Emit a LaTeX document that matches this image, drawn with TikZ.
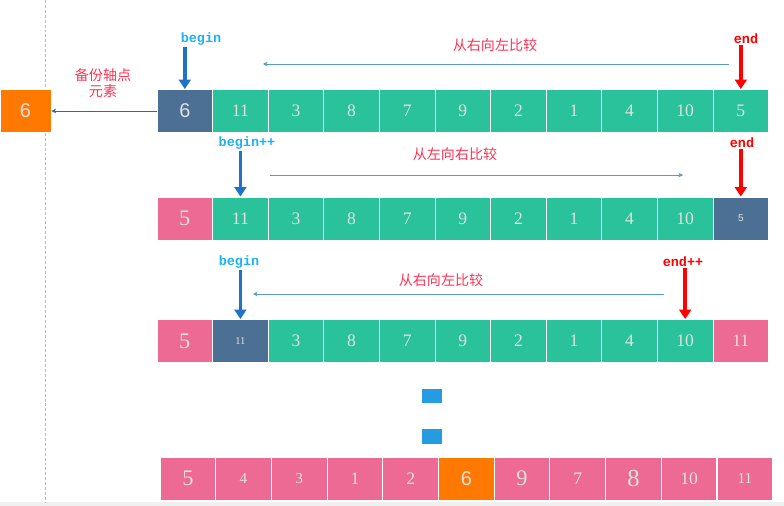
\documentclass[tikz,border=0pt]{standalone}
\usepackage{fontspec}
\setmainfont{Liberation Serif}
\newfontfamily\cjk{Noto Sans CJK SC}
\newfontfamily\ptrmono{Liberation Mono}
\newfontfamily\digsans{Liberation Sans}
\usetikzlibrary{arrows.meta}
\definecolor{cellgreen}{HTML}{2AC29B}
\definecolor{cellblue}{HTML}{4B7094}
\definecolor{cellpink}{HTML}{EC6A94}
\definecolor{cellorange}{HTML}{FF7800}
\definecolor{ptrcyan}{HTML}{1EB2F2}
\definecolor{ptrblue}{HTML}{1E72C8}
\definecolor{ptrred}{HTML}{FF0000}
\definecolor{hintred}{HTML}{FF3355}
\definecolor{lineblue}{HTML}{5B9AC6}
\definecolor{pivotline}{HTML}{2D6E9E}
\definecolor{dotblue}{HTML}{279BE0}
\tikzset{
  cell/.style={draw=white,line width=0.8pt,minimum width=1.668cm,minimum height=1.29cm,
    inner sep=0pt,text=white!88!black},
  numreg/.style={font=\fontsize{15}{15}\selectfont},
  nummid/.style={font=\fontsize{13}{13}\selectfont},
  numbig/.style={font=\fontsize{19}{19}\selectfont},
  numhuge/.style={font=\fontsize{21}{21}\selectfont},
  numsmall/.style={font=\fontsize{9}{9}\selectfont},
  numbigsans/.style={font=\digsans\fontsize{17}{17}\selectfont},
  numsmallsans/.style={font=\digsans\fontsize{8.5}{8.5}\selectfont},
  ptrlabel/.style={font=\ptrmono\bfseries\fontsize{11.5}{11.5}\selectfont,inner sep=1pt},
  ptrarrow/.style={line width=3.2pt,-{Triangle[width=10pt,length=8pt]}},
  hint/.style={font=\cjk\fontsize{12}{14}\selectfont,text=hintred,inner sep=1pt},
  hintarrow/.style={draw=lineblue,line width=0.8pt,-{Stealth[length=4pt,width=4pt]}}
}
\begin{document}
\begin{tikzpicture}[x=0.03cm,y=-0.03cm]
\useasboundingbox (0,0) rectangle (784,506);
\fill[white] (0,0) rectangle (784,506);
\fill[gray!12] (0,502) rectangle (784,506);
\draw[gray!55,line width=0.6pt,dash pattern=on 2.5pt off 1.7pt] (45,0) -- (45,502);

% row 1: pivot taken out
\foreach \v/\c/\f [count=\i] in {6/cellblue/numbigsans,11/cellgreen/numreg,3/cellgreen/numreg,
  8/cellgreen/numreg,7/cellgreen/numreg,9/cellgreen/numreg,2/cellgreen/numreg,1/cellgreen/numreg,
  4/cellgreen/numreg,10/cellgreen/numreg,5/cellgreen/numreg}
  \node[cell,fill=\c,\f] (r1c\i) at ({129.2+55.6*\i},111) {\v};
\node[cell,fill=cellorange,numbigsans,minimum width=1.53cm] (pivot) at (25.5,111) {6};
\draw[pivotline,line width=0.8pt,-{Stealth[length=4pt,width=4pt]}] (r1c1.west) -- (pivot.east);
\node[hint,align=center] (pivlbl) at (103,83) {备份轴点\\元素};
\node[ptrlabel,text=ptrcyan] (b1) at (201,39) {begin};
\node[ptrlabel,text=ptrred] (e1) at (746,39) {end};
\draw[ptrarrow,ptrblue] (r1c1.north |- b1.south) -- (r1c1.north);
\draw[ptrarrow,ptrred] (r1c11.north |- e1.south) -- (r1c11.north);
\node[hint] (h1) at (495,45) {从右向左比较};
\coordinate (h1s) at (729,64);
\coordinate (h1e) at (263,64);
\draw[hintarrow] (h1s) -- (h1e);

% row 2: end moved to begin
\foreach \v/\c/\f [count=\i] in {5/cellpink/numbig,11/cellgreen/numreg,3/cellgreen/numreg,
  8/cellgreen/numreg,7/cellgreen/numreg,9/cellgreen/numreg,2/cellgreen/numreg,1/cellgreen/numreg,
  4/cellgreen/numreg,10/cellgreen/numreg,5/cellblue/numsmallsans}
  \node[cell,fill=\c,\f] (r2c\i) at ({129.2+55.6*\i},218.5) {\v};
\node[ptrlabel,text=ptrcyan] (b2) at (247,143) {begin++};
\node[ptrlabel,text=ptrred] (e2) at (742,143) {end};
\draw[ptrarrow,ptrblue] (r2c2.north |- b2.south) -- (r2c2.north);
\draw[ptrarrow,ptrred] (r2c11.north |- e2.south) -- (r2c11.north);
\node[hint] (h2) at (455,154) {从左向右比较};
\coordinate (h2s) at (270,175);
\coordinate (h2e) at (683,175);
\draw[hintarrow] (h2s) -- (h2e);

% row 3: begin moved to end
\foreach \v/\c/\f [count=\i] in {5/cellpink/numbig,11/cellblue/numsmall,3/cellgreen/numreg,
  8/cellgreen/numreg,7/cellgreen/numreg,9/cellgreen/numreg,2/cellgreen/numreg,1/cellgreen/numreg,
  4/cellgreen/numreg,10/cellgreen/numreg,11/cellpink/numreg}
  \node[cell,fill=\c,\f] (r3c\i) at ({129.2+55.6*\i},341) {\v};
\node[ptrlabel,text=ptrcyan] (b3) at (239,262) {begin};
\node[ptrlabel,text=ptrred] (e3) at (683,262) {end++};
\draw[ptrarrow,ptrblue] (r3c2.north |- b3.south) -- (r3c2.north);
\draw[ptrarrow,ptrred] (r3c10.north |- e3.south) -- (r3c10.north);
\node[hint] (h3) at (441,280) {从右向左比较};
\coordinate (h3s) at (664,294);
\coordinate (h3e) at (253,294);
\draw[hintarrow] (h3s) -- (h3e);

% dots
\fill[dotblue] (422,389) rectangle (442,403);
\fill[dotblue] (422,429) rectangle (442,444);

% final row
\foreach \v/\c/\f [count=\i] in {5/cellpink/numbig,4/cellpink/nummid,3/cellpink/nummid,
  1/cellpink/numreg,2/cellpink/numreg,6/cellorange/numbigsans,9/cellpink/numbig,7/cellpink/numreg,
  8/cellpink/numhuge,10/cellpink/numreg,11/cellpink/nummid}
  \node[cell,fill=\c,\f] (r4c\i) at ({132.15+55.7*\i},478.5) {\v};
\end{tikzpicture}
\end{document}
